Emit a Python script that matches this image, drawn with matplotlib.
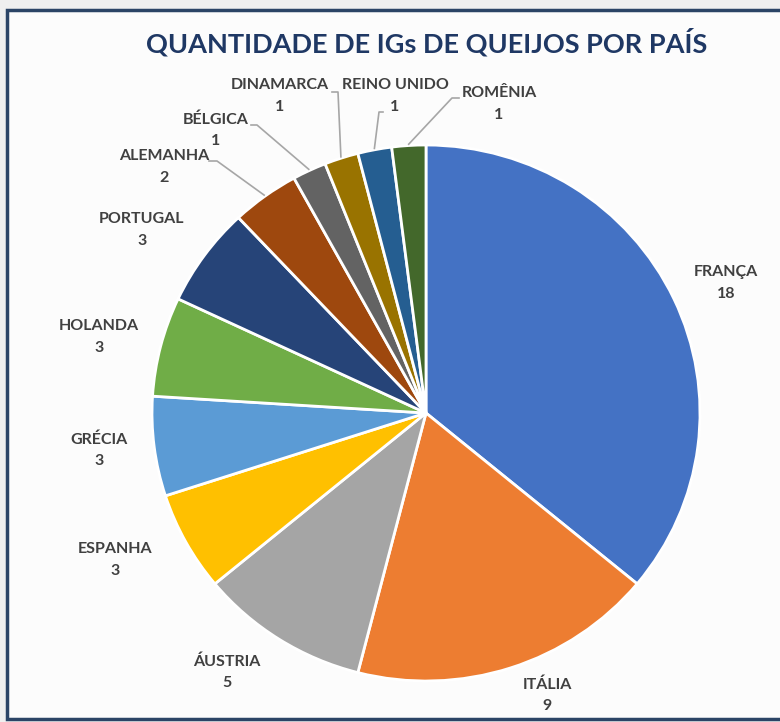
import matplotlib
matplotlib.use("Agg")
import matplotlib.pyplot as plt
import numpy as np
from matplotlib.patches import Rectangle

# dados
paises = ['FRANÇA', 'ITÁLIA', 'ÁUSTRIA', 'ESPANHA', 'GRÉCIA', 'HOLANDA',
          'PORTUGAL', 'ALEMANHA', 'BÉLGICA', 'DINAMARCA', 'REINO UNIDO', 'ROMÊNIA']
quantidades = [18, 9, 5, 3, 3, 3, 3, 2, 1, 1, 1, 1]
cores = ['#4472C4', '#ED7D31', '#A5A5A5', '#FFC000', '#5B9BD5', '#70AD47',
         '#264478', '#9E480E', '#636363', '#997300', '#255E91', '#43682B']
titulo = 'QUANTIDADE DE IGs DE QUEIJOS POR PAÍS'

# posição dos rótulos em pixels relativos ao centro (x para direita, y para cima)
pos_rotulos = [(300, 130), (121, -282), (-199, -259), (-311, -147),
               (-327, -37), (-327, 76), (-284, 183), (-262, 246),
               (-210, 283), (-146, 317), (-31, 317), (73, 309)]
guias = {7: [(-217, 252), (-209, 252)],
         8: [(-175, 288), (-169, 288)],
         9: [(-94, 321), (-88, 321)],
         10: [(-43, 301), (-47, 301)],
         11: [(33, 315), (26, 315)]}
RX, RY = 274, 268

fig = plt.figure(figsize=(7.8, 7.22), dpi=100)
fig.patch.set_facecolor('#EFEFEF')

# moldura
fig.patches.append(Rectangle((6.5 / 780, 3.5 / 722), 1.0, 1 - 13 / 722,
                             transform=fig.transFigure, facecolor='#FCFCFC',
                             edgecolor='#2B4466', linewidth=2.5, zorder=-10))

ax = fig.add_axes([(426 - RX) / 780, (722 - 413 - RY) / 722, 2 * RX / 780, 2 * RY / 722])
ax.set_zorder(1)

wedges, _ = ax.pie(quantidades, colors=cores, startangle=90, counterclock=False,
                   radius=1.0, center=(0, 0), frame=True,
                   wedgeprops=dict(edgecolor='white', linewidth=2))
ax.set_aspect('auto')
ax.set_xlim(-1, 1)
ax.set_ylim(-1, 1)
ax.axis('off')

for i, (w, nome, q) in enumerate(zip(wedges, paises, quantidades)):
    x, y = pos_rotulos[i]
    ax.text(x / RX, y / RY, f'{nome}\n{q}', ha='center', va='center', fontsize=11.5,
            fontweight='bold', color='#404040', family='Lato', linespacing=1.65)
    if i in guias:
        meio = np.deg2rad((w.theta1 + w.theta2) / 2)
        pts = [(px / RX, py / RY) for px, py in guias[i]]
        pts.append((np.cos(meio) * 1.005, np.sin(meio) * 1.005))
        xs, ys = zip(*pts)
        ax.plot(xs, ys, color='#A6A6A6', linewidth=1.2, clip_on=False)

fig.text(427 / 780, 1 - 42 / 722, titulo, ha='center', va='center', fontsize=19.5,
         fontweight='bold', color='#1F3864', family='Lato')

fig.savefig('out.png', dpi=100, facecolor=fig.get_facecolor())
